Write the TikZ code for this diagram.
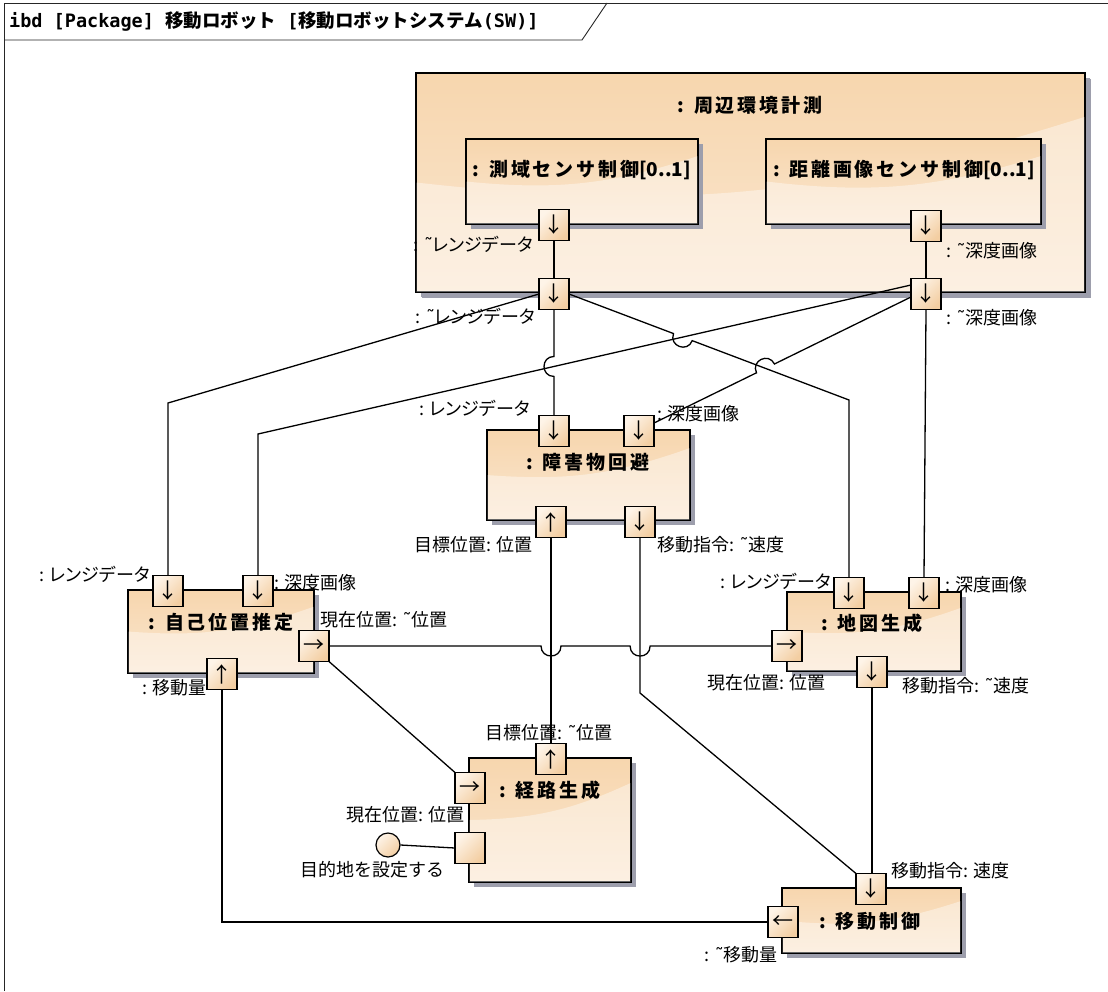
\documentclass[tikz,border=0pt]{standalone}
\usepackage{fontspec}
\setmainfont{Noto Sans CJK JP}
\newfontfamily\ttlfam{Noto Sans CJK JP}[LetterSpace=15]
\newfontfamily\ktfam{Noto Sans CJK JP}[RawFeature=+palt]
\newfontfamily\dvs{DejaVu Sans}
\newfontfamily\dvm{DejaVu Sans Mono}
\newcommand\tld{{\dvs ˜}}
\newcommand\hm[1]{{\dvm\bfseries #1}}
\usetikzlibrary{calc,shadows}
\definecolor{bxTop}{HTML}{F7D6AE}
\definecolor{bxBot}{HTML}{FAE6CF}
\definecolor{shd}{HTML}{9D9EAC}
\definecolor{ptA}{HTML}{FEF4E8}
\definecolor{ptB}{HTML}{F3CEA2}
\newcommand\mkjump[6]{%
  \coordinate (#1a) at ($(#2)!10pt!(#3)$);
  \coordinate (#1b) at ($(#2)!10pt!(#4)$);
  \coordinate (#1c) at ($(#1a)!13.3pt!#5:(#2)$);
  \coordinate (#1d) at ($(#1b)!13.3pt!#6:(#2)$);
}
\newcommand\gloss[1]{%
  \begin{scope}
    \clip ([xshift=0.7pt,yshift=-0.7pt]#1.north west) rectangle ([xshift=-0.7pt,yshift=0.7pt]#1.south east);
    \fill[white, opacity=0.4] ($(#1.south west)!0.5!(#1.north west)$) to[bend right=12]
      ($(#1.south east)!0.8!(#1.north east)$) -- (#1.south east) -- (#1.south west) -- cycle;
  \end{scope}}
\begin{document}
\begin{tikzpicture}[x=1pt,y=-1pt,
  wire/.style={line width=1.3pt, draw=black},
  blk/.style={draw=black, line width=1.4pt, top color=bxTop, bottom color=bxBot,
    inner sep=0pt, outer sep=0pt, anchor=north west,
    drop shadow={shadow xshift=5pt, shadow yshift=-5pt, fill=shd, opacity=1}},
  prt/.style={draw=black, line width=1.2pt, top color=ptA, bottom color=ptB, shading angle=45,
    minimum width=30pt, minimum height=31pt, inner sep=0pt, outer sep=0pt,
    font=\fontsize{21}{21}\selectfont},
  lbl/.style={inner sep=0pt, font=\fontsize{18}{18}\selectfont},
  klbl/.style={inner sep=0pt, font=\ktfam\fontsize{18}{18}\selectfont},
  ttl/.style={inner sep=0pt, font=\ttlfam\bfseries\fontsize{19}{19}\selectfont}]
\useasboundingbox (0,0) rectangle (1108,991);
\fill[white] (0,0) rectangle (1108,991);
% frame
\draw[line width=0.9pt, draw=black!85] (4,991) -- (4,3) -- (1108,3);
\draw[line width=0.9pt, draw=black!85] (4,40) -- (582,40) -- (607,3);
\node[anchor=west, inner sep=0pt, font=\bfseries\fontsize{18.5}{18.5}\selectfont] (hdr) at (9,22)
  {\hm{ibd [Package] }移動ロボット\hm{ [}移動ロボットシステム\hm{(SW)]}};
% blocks
\node[blk, minimum width=669pt, minimum height=219pt, drop shadow={shadow xshift=6pt, shadow yshift=-6pt, fill=shd, opacity=1}] (env) at (416,73) {};
\gloss{env}
\node[blk, minimum width=232pt, minimum height=85pt] (s1) at (466,139) {};
\gloss{s1}
\node[blk, minimum width=275pt, minimum height=85pt] (s2) at (766,139) {};
\gloss{s2}
\node[blk, minimum width=203pt, minimum height=90pt] (obs) at (487,430) {};
\gloss{obs}
\node[blk, minimum width=186pt, minimum height=83pt] (self) at (128,590) {};
\gloss{self}
\node[blk, minimum width=174pt, minimum height=79pt] (map) at (787,592) {};
\gloss{map}
\node[blk, minimum width=162pt, minimum height=124pt] (path) at (469,758) {};
\gloss{path}
\node[blk, minimum width=179pt, minimum height=65pt] (mc) at (782,888) {};
\gloss{mc}
% titles
\node[ttl] (envT) at (750,105) {: 周辺環境計測};
\node[ttl] (s1T) at (582,170) {: 測域センサ制御{\rmfamily\bfseries [0..1]}};
\node[ttl] (s2T) at (904,170) {: 距離画像センサ制御{\rmfamily\bfseries [0..1]}};
\node[ttl] (obsT) at (588,462) {: 障害物回避};
\node[ttl] (selfT) at (221,622) {: 自己位置推定};
\node[ttl] (mapT) at (872,623) {: 地図生成};
\node[ttl] (pathT) at (550,790) {: 経路生成};
\node[ttl] (mcT) at (870,921) {: 移動制御};
% ports
\node[prt] (s1p) at (554,225) {↓};
\node[prt] (s2p) at (926,226) {↓};
\node[prt] (envR) at (554,294) {↓};
\node[prt] (envD) at (926,294) {↓};
\node[prt] (obsR) at (554,431) {↓};
\node[prt] (obsD) at (639,431) {↓};
\node[prt] (obsU) at (551,522) {↑};
\node[prt] (obsM) at (640,522) {↓};
\node[prt] (selfR) at (168,591) {↓};
\node[prt] (selfD) at (258,591) {↓};
\node[prt] (selfP) at (314,646) {→};
\node[prt] (selfU) at (222,674) {↑};
\node[prt] (mapR) at (849,593) {↓};
\node[prt] (mapD) at (924,593) {↓};
\node[prt] (mapP) at (787,646) {→};
\node[prt] (mapM) at (872,672) {↓};
\node[prt] (pathU) at (551,759) {↑};
\node[prt] (pathP) at (470,788) {→};
\node[prt] (pathI) at (470,848) {};
\node[prt] (mcM) at (871,889) {↓};
\node[prt] (mcL) at (783,922) {←};
\node[circle, draw=black, line width=1.2pt, minimum size=24pt, inner sep=0pt, top color=ptA, bottom color=ptB, shading angle=45] (goal) at (388,845) {};
% helper coordinates
\coordinate (c4k) at (selfR.north |- 0,403);
\coordinate (c5k) at (mapR.north |- 0,400);
\coordinate (c6s) at ([yshift=9pt]envD.west);
\coordinate (c6k) at (selfD.north |- 0,434);
\coordinate (c7s) at ([yshift=-3pt]envD.west);
\coordinate (c7e) at ([yshift=8pt]obsD.east);
\coordinate (c10k) at (obsM.south |- 0,693);
\coordinate (X1) at (intersection of envR.south--obsR.north and c6s--c6k);
\coordinate (X2) at (intersection of envR.east--c5k and c6s--c6k);
\coordinate (X3) at (intersection of c7s--c7e and envR.east--c5k);
\coordinate (X4) at (intersection of selfP.east--mapP.west and obsU.south--pathU.north);
\coordinate (X5) at (intersection of selfP.east--mapP.west and obsM.south--c10k);
\mkjump{ja}{X1}{envR.south}{obsR.north}{-90}{90}
\mkjump{jb}{X2}{envR.east}{c5k}{-90}{90}
\mkjump{jc}{X3}{c7s}{c7e}{-90}{90}
\mkjump{jd}{X4}{selfP.east}{mapP.west}{-90}{90}
\mkjump{je}{X5}{selfP.east}{mapP.west}{-90}{90}
% connectors
\draw[wire] (s1p.south) -- (envR.north);
\draw[wire] (s2p.south) -- (envD.north);
\draw[wire] (envR.south) -- (jaa) .. controls (jac) and (jad) .. (jab) -- (obsR.north);
\draw[wire] (envR.west) -- (c4k) -- (selfR.north);
\draw[wire] (envR.east) -- (jba) .. controls (jbc) and (jbd) .. (jbb) -- (c5k) -- (mapR.north);
\draw[wire] (c6s) -- (c6k) -- (selfD.north);
\draw[wire] (c7s) -- (jca) .. controls (jcc) and (jcd) .. (jcb) -- (c7e);
\draw[wire] (envD.south) -- (mapD.north);
\draw[wire] (obsU.south) -- (pathU.north);
\draw[wire] (obsM.south) -- (c10k) -- (mcM.north west);
\draw[wire] (selfP.east) -- (jda) .. controls (jdc) and (jdd) .. (jdb) -- (jea) .. controls (jec) and (jed) .. (jeb) -- (mapP.west);
\draw[wire] (selfP.south east) -- (pathP.north west);
\draw[wire] (mapM.south) -- (mapM.south |- mcM.north);
\draw[wire] (mcL.west) -| (selfU.south);
\draw[wire] (goal.east) -- (pathI.west);
% labels
\node[klbl, anchor=east] (l1) at (533,244) {: \tld レンジデータ};
\node[lbl, anchor=west] (l2) at (946,251) {: \tld 深度画像};
\node[klbl, anchor=east] (l3) at (535,316) {: \tld レンジデータ};
\node[lbl, anchor=west] (l4) at (946,318) {: \tld 深度画像};
\node[klbl, anchor=east] (l5) at (530,408) {: レンジデータ};
\node[lbl, anchor=west] (l6) at (657,414) {: 深度画像};
\node[lbl, anchor=east] (l7) at (533,545) {目標位置: 位置};
\node[lbl, anchor=west] (l8) at (657,545) {移動指令: \tld 速度};
\node[klbl, anchor=east] (l9) at (150,574) {: レンジデータ};
\node[lbl, anchor=west] (l10) at (274,583) {: 深度画像};
\node[lbl, anchor=west] (l11) at (320,620) {現在位置: \tld 位置};
\node[lbl, anchor=east] (l12) at (207,688) {: 移動量};
\node[klbl, anchor=east] (l13) at (831,581) {: レンジデータ};
\node[lbl, anchor=west] (l14) at (945,585) {: 深度画像};
\node[lbl, anchor=east] (l15) at (826,683) {現在位置: 位置};
\node[lbl, anchor=west] (l16) at (902,686) {移動指令: \tld 速度};
\node[lbl] (l17) at (549,733) {目標位置: \tld 位置};
\node[lbl, anchor=east] (l18) at (465,815) {現在位置: 位置};
\node[lbl] (l19) at (372,870) {目的地を設定する};
\node[lbl, anchor=west] (l20) at (891,871) {移動指令: 速度};
\node[lbl, anchor=east] (l21) at (778,955) {: \tld 移動量};
\end{tikzpicture}
\end{document}
